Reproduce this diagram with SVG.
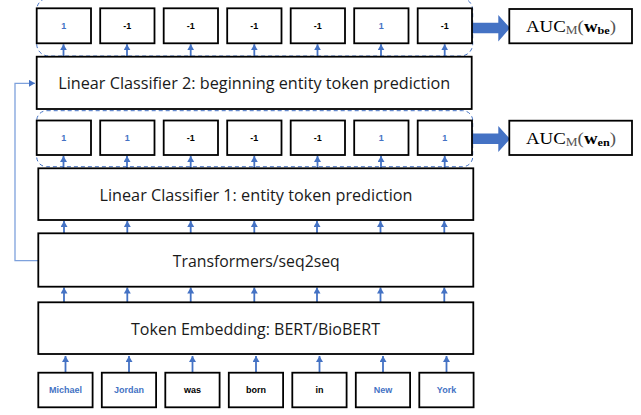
<svg xmlns="http://www.w3.org/2000/svg" width="641" height="415" viewBox="0 0 641 415">
<style>
.box{fill:#fff;stroke:#000;stroke-width:1.8}
.big{font-family:"Open Sans","Liberation Sans",sans-serif;font-size:17px;fill:#1a1a1a;text-anchor:middle}
.sm{font-family:"Liberation Sans",Arial,sans-serif;font-size:9px;font-weight:bold;text-anchor:middle}
.b{fill:#4472C4}
.k{fill:#000}
.arr{stroke:#4472C4;stroke-width:1.8;fill:none;marker-end:url(#ah)}
.dash{fill:none;stroke:#4472C4;stroke-width:1;stroke-dasharray:4 3}
.auc{font-family:"Liberation Serif","Times New Roman",serif;font-size:17px;fill:#000}
.g{fill:#555}
</style>
<defs>
<marker id="ah" markerUnits="userSpaceOnUse" markerWidth="8" markerHeight="8" refX="6" refY="3.5" orient="auto">
<path d="M0,0 L6,3.5 L0,7 z" fill="#4472C4"/>
</marker>
<marker id="ahl" markerUnits="userSpaceOnUse" markerWidth="8" markerHeight="8" refX="6" refY="3.5" orient="auto">
<path d="M0,0 L6,3.5 L0,7 z" fill="#4472C4"/>
</marker>
</defs>

<g id="connectors">
<!-- word -> embedding -->
<line class="arr" x1="65.5" y1="372" x2="65.5" y2="356"/>
<line class="arr" x1="129" y1="372" x2="129" y2="356"/>
<line class="arr" x1="192.5" y1="372" x2="192.5" y2="356"/>
<line class="arr" x1="256" y1="372" x2="256" y2="356"/>
<line class="arr" x1="319.5" y1="372" x2="319.5" y2="356"/>
<line class="arr" x1="383" y1="372" x2="383" y2="356"/>
<line class="arr" x1="446.5" y1="372" x2="446.5" y2="356"/>
<!-- embedding -> transformers -->
<line class="arr" x1="64" y1="302" x2="64" y2="287.5"/>
<line class="arr" x1="127.3" y1="302" x2="127.3" y2="287.5"/>
<line class="arr" x1="190.7" y1="302" x2="190.7" y2="287.5"/>
<line class="arr" x1="254.3" y1="302" x2="254.3" y2="287.5"/>
<line class="arr" x1="317" y1="302" x2="317" y2="287.5"/>
<line class="arr" x1="380.5" y1="302" x2="380.5" y2="287.5"/>
<line class="arr" x1="444.3" y1="302" x2="444.3" y2="287.5"/>
<!-- transformers -> classifier 1 -->
<line class="arr" x1="64" y1="233" x2="64" y2="221"/>
<line class="arr" x1="127.3" y1="233" x2="127.3" y2="221"/>
<line class="arr" x1="190.7" y1="233" x2="190.7" y2="221"/>
<line class="arr" x1="254.3" y1="233" x2="254.3" y2="221"/>
<line class="arr" x1="317" y1="233" x2="317" y2="221"/>
<line class="arr" x1="380.5" y1="233" x2="380.5" y2="221"/>
<line class="arr" x1="444.3" y1="233" x2="444.3" y2="221"/>
<!-- classifier 1 -> row 2 -->
<line class="arr" x1="63.5" y1="168" x2="63.5" y2="156"/>
<line class="arr" x1="127" y1="168" x2="127" y2="156"/>
<line class="arr" x1="190.7" y1="168" x2="190.7" y2="156"/>
<line class="arr" x1="254.3" y1="168" x2="254.3" y2="156"/>
<line class="arr" x1="317.5" y1="168" x2="317.5" y2="156"/>
<line class="arr" x1="381" y1="168" x2="381" y2="156"/>
<line class="arr" x1="444.7" y1="168" x2="444.7" y2="156"/>
<!-- classifier 2 -> row 1 -->
<line class="arr" x1="63.5" y1="56.5" x2="63.5" y2="44.3"/>
<line class="arr" x1="127" y1="56.5" x2="127" y2="44.3"/>
<line class="arr" x1="190.7" y1="56.5" x2="190.7" y2="44.3"/>
<line class="arr" x1="254.3" y1="56.5" x2="254.3" y2="44.3"/>
<line class="arr" x1="317.5" y1="56.5" x2="317.5" y2="44.3"/>
<line class="arr" x1="381" y1="56.5" x2="381" y2="44.3"/>
<line class="arr" x1="444.7" y1="56.5" x2="444.7" y2="44.3"/>
<!-- feedback -->
<polyline points="38.3,260.7 15,260.7 15,83.3 35,83.3" fill="none" stroke="#7EA1DC" stroke-width="1.3" marker-end="url(#ahl)"/>
<!-- block arrows -->
<path d="M472,22.7 L498.3,22.7 L498.3,15 L510,28 L498.3,41.5 L498.3,33.3 L472,33.3 z" fill="#4472C4"/>
<path d="M472,133.5 L498.3,133.5 L498.3,126 L510,139 L498.3,152 L498.3,144 L472,144 z" fill="#4472C4"/>
</g>

<g id="group-row1"><rect class="dash" x="36.7" y="-2" width="436" height="58" rx="12"/></g>
<g id="group-row2"><rect class="dash" x="36.7" y="110.7" width="436" height="56" rx="10"/></g>

<g id="row1">
<g id="r1-1"><rect class="box" x="36.7" y="8.3" width="54.3" height="35"/><text class="sm b" x="63.8" y="29">1</text></g>
<g id="r1-2"><rect class="box" x="100.2" y="8.3" width="54.3" height="35"/><text class="sm k" x="127.3" y="29">-1</text></g>
<g id="r1-3"><rect class="box" x="163.7" y="8.3" width="54.3" height="35"/><text class="sm k" x="190.8" y="29">-1</text></g>
<g id="r1-4"><rect class="box" x="227.2" y="8.3" width="54.3" height="35"/><text class="sm k" x="254.3" y="29">-1</text></g>
<g id="r1-5"><rect class="box" x="290.7" y="8.3" width="54.3" height="35"/><text class="sm k" x="317.8" y="29">-1</text></g>
<g id="r1-6"><rect class="box" x="354.2" y="8.3" width="54.3" height="35"/><text class="sm b" x="381.3" y="29">1</text></g>
<g id="r1-7"><rect class="box" x="417.7" y="8.3" width="54.3" height="35"/><text class="sm k" x="444.8" y="29">-1</text></g>
</g>

<g id="classifier2"><rect class="box" x="36.7" y="56.7" width="435" height="52.3"/><text class="big" x="254.2" y="89.3" textLength="392" lengthAdjust="spacingAndGlyphs">Linear Classifier 2: beginning entity token prediction</text></g>

<g id="row2">
<g id="r2-1"><rect class="box" x="36.7" y="120.5" width="54.3" height="34.5"/><text class="sm b" x="63.8" y="140.5">1</text></g>
<g id="r2-2"><rect class="box" x="100.2" y="120.5" width="54.3" height="34.5"/><text class="sm b" x="127.3" y="140.5">1</text></g>
<g id="r2-3"><rect class="box" x="163.7" y="120.5" width="54.3" height="34.5"/><text class="sm k" x="190.8" y="140.5">-1</text></g>
<g id="r2-4"><rect class="box" x="227.2" y="120.5" width="54.3" height="34.5"/><text class="sm k" x="254.3" y="140.5">-1</text></g>
<g id="r2-5"><rect class="box" x="290.7" y="120.5" width="54.3" height="34.5"/><text class="sm k" x="317.8" y="140.5">-1</text></g>
<g id="r2-6"><rect class="box" x="354.2" y="120.5" width="54.3" height="34.5"/><text class="sm b" x="381.3" y="140.5">1</text></g>
<g id="r2-7"><rect class="box" x="417.7" y="120.5" width="54.3" height="34.5"/><text class="sm b" x="444.8" y="140.5">1</text></g>
</g>

<g id="auc-be"><rect class="box" x="509.3" y="9" width="122.7" height="34.3"/>
<text class="auc" x="526" y="32" textLength="90" lengthAdjust="spacingAndGlyphs">AUC<tspan class="g" font-size="12" dy="2">M</tspan><tspan class="g" dy="-2">(</tspan><tspan font-weight="bold">w</tspan><tspan font-weight="bold" font-size="11" dy="2">be</tspan><tspan class="g" dy="-2">)</tspan></text></g>
<g id="auc-en"><rect class="box" x="509.3" y="120.7" width="122.7" height="34.3"/>
<text class="auc" x="526" y="144" textLength="90" lengthAdjust="spacingAndGlyphs">AUC<tspan class="g" font-size="12" dy="2">M</tspan><tspan class="g" dy="-2">(</tspan><tspan font-weight="bold">w</tspan><tspan font-weight="bold" font-size="11" dy="2">en</tspan><tspan class="g" dy="-2">)</tspan></text></g>

<g id="classifier1"><rect class="box" x="38.3" y="168.3" width="435" height="51.7"/><text class="big" x="256" y="200.7" textLength="313" lengthAdjust="spacingAndGlyphs">Linear Classifier 1: entity token prediction</text></g>

<g id="transformers"><rect class="box" x="38.3" y="233.3" width="435" height="53.4"/><text class="big" x="256.3" y="266.7" textLength="167" lengthAdjust="spacingAndGlyphs">Transformers/seq2seq</text></g>

<g id="embedding"><rect class="box" x="38.3" y="302.3" width="435" height="51.7"/><text class="big" x="255.5" y="335" textLength="249" lengthAdjust="spacingAndGlyphs">Token Embedding: BERT/BioBERT</text></g>

<g id="words">
<g id="w-michael"><rect class="box" x="38.3" y="372.7" width="54.3" height="34.6"/><text class="sm b" x="65.5" y="393">Michael</text></g>
<g id="w-jordan"><rect class="box" x="101.8" y="372.7" width="54.3" height="34.6"/><text class="sm b" x="129" y="393">Jordan</text></g>
<g id="w-was"><rect class="box" x="165.3" y="372.7" width="54.3" height="34.6"/><text class="sm k" x="192.5" y="393">was</text></g>
<g id="w-born"><rect class="box" x="228.8" y="372.7" width="54.3" height="34.6"/><text class="sm k" x="256" y="393">born</text></g>
<g id="w-in"><rect class="box" x="292.3" y="372.7" width="54.3" height="34.6"/><text class="sm k" x="319.5" y="393">in</text></g>
<g id="w-new"><rect class="box" x="355.8" y="372.7" width="54.3" height="34.6"/><text class="sm b" x="383" y="393">New</text></g>
<g id="w-york"><rect class="box" x="419.3" y="372.7" width="54.3" height="34.6"/><text class="sm b" x="446.5" y="393">York</text></g>
</g>
</svg>
